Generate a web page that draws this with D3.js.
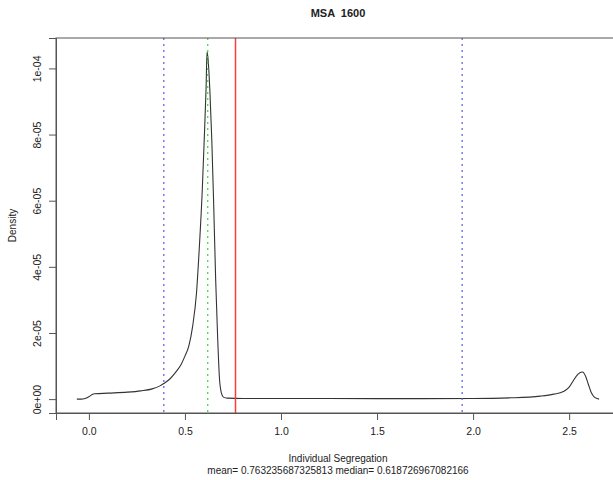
<!DOCTYPE html>
<html>
<head>
<meta charset="utf-8">
<script src="https://cdn.jsdelivr.net/npm/d3@7"></script>
<style>
  body { margin: 0; background: #fff; }
  text { font-family: "Liberation Sans", Arial, sans-serif; fill: #222; }
</style>
</head>
<body>
<script>
  // density estimate
  const densX = [-0.0625, -0.04, -0.02, 0.0, 0.015, 0.03, 0.1, 0.2, 0.27, 0.33, 0.37, 0.39, 0.42, 0.45, 0.48, 0.5, 0.52, 0.54, 0.56, 0.575, 0.59, 0.6, 0.61, 0.615, 0.62, 0.63, 0.64, 0.65, 0.66, 0.67, 0.68, 0.69, 0.70, 0.72, 0.8, 1.0, 1.5, 2.0, 2.2, 2.35, 2.42, 2.47, 2.5, 2.52, 2.545, 2.57, 2.585, 2.6, 2.615, 2.63, 2.645, 2.656];
  const densY = [0, 0, 0.02e-5, 0.07e-5, 0.13e-5, 0.16e-5, 0.18e-5, 0.21e-5, 0.25e-5, 0.31e-5, 0.4e-5, 0.47e-5, 0.6e-5, 0.8e-5, 1.05e-5, 1.3e-5, 1.6e-5, 2.2e-5, 3.2e-5, 4.6e-5, 6.3e-5, 7.8e-5, 9.4e-5, 10.5e-5, 10.3e-5, 9.3e-5, 7.8e-5, 5.8e-5, 3.6e-5, 1.9e-5, 0.6e-5, 0.18e-5, 0.06e-5, 0.03e-5, 0.02e-5, 0.02e-5, 0.015e-5, 0.02e-5, 0.04e-5, 0.09e-5, 0.15e-5, 0.23e-5, 0.36e-5, 0.54e-5, 0.75e-5, 0.82e-5, 0.7e-5, 0.45e-5, 0.2e-5, 0.07e-5, 0.02e-5, 0];

  const xTicks = [0, 0.5, 1.0, 1.5, 2.0, 2.5];
  const yTicks = [0, 2e-5, 4e-5, 6e-5, 8e-5, 1e-4];
  const yTickLabels = ["0e+00", "2e-05", "4e-05", "6e-05", "8e-05", "1e-04"];

  const meanVal = 0.763235687325813;
  const medianVal = 0.618726967082166;
  const boundVals = [0.39, 1.943]; // blue dotted lines

  const title = "MSA  1600";
  const xLabel = "Individual Segregation";
  const yLabel = "Density";
  const subTitle = "mean= " + meanVal + " median= " + medianVal;

  const W = 613, H = 480;
  const box = {left: 56, right: 620, top: 38, bottom: 413};

  // R style 4% padding around data range
  const xr = d3.extent(densX), xp = (xr[1] - xr[0]) * 0.04;
  const yr = [0, d3.max(densY)], yp = (yr[1] - yr[0]) * 0.04;

  const x = d3.scaleLinear().domain([xr[0] - xp, xr[1] + xp]).range([box.left, box.right]);
  const y = d3.scaleLinear().domain([yr[0] - yp, yr[1] + yp]).range([box.bottom, box.top]);

  const svg = d3.select("body").append("svg")
      .attr("width", W).attr("height", H);

  svg.append("rect").attr("width", W).attr("height", H).attr("fill", "#fff");

  // density curve
  const pts = densX.map((d, i) => [d, densY[i]]);
  svg.append("path")
      .datum(pts)
      .attr("fill", "none")
      .attr("stroke", "#333")
      .attr("stroke-width", 1.1)
      .attr("d", d3.line().x(d => x(d[0])).y(d => y(d[1])).curve(d3.curveMonotoneX));

  // vertical lines
  svg.selectAll("line.bound")
    .data(boundVals)
    .enter().append("line")
      .attr("class", "bound")
      .attr("x1", d => x(d)).attr("x2", d => x(d))
      .attr("y1", box.top).attr("y2", box.bottom)
      .attr("stroke", "#5a5ae0")
      .attr("stroke-width", 1.2)
      .attr("stroke-dasharray", "2,4");

  svg.append("line")
      .attr("x1", x(medianVal)).attr("x2", x(medianVal))
      .attr("y1", box.top).attr("y2", box.bottom)
      .attr("stroke", "#3fd03f")
      .attr("stroke-width", 1.2)
      .attr("stroke-dasharray", "2,4");

  svg.append("line")
      .attr("x1", x(meanVal)).attr("x2", x(meanVal))
      .attr("y1", box.top).attr("y2", box.bottom)
      .attr("stroke", "#ff3c3c")
      .attr("stroke-width", 1.5);

  // box
  svg.append("rect")
      .attr("x", box.left).attr("y", box.top)
      .attr("width", box.right - box.left).attr("height", box.bottom - box.top)
      .attr("fill", "none").attr("stroke", "#555").attr("stroke-width", 1);

  // x axis
  const xAxis = svg.append("g")
      .attr("transform", "translate(0," + box.bottom + ")")
      .call(d3.axisBottom(x).tickValues(xTicks).tickFormat(d3.format(".1f")).tickSizeOuter(0).tickSize(7).tickPadding(8));
  xAxis.select(".domain").attr("stroke", "#555");
  xAxis.selectAll(".tick line").attr("stroke", "#555");
  xAxis.selectAll("text").attr("font-size", 10.5).style("font-family", "Liberation Sans, Arial, sans-serif").attr("fill", "#222");

  // y axis, labels rotated like R
  const yAxis = svg.append("g")
      .attr("transform", "translate(" + box.left + ",0)")
      .call(d3.axisLeft(y).tickValues(yTicks).tickFormat((d, i) => yTickLabels[i]).tickSizeOuter(0).tickSize(7));
  yAxis.select(".domain").attr("stroke", "#555");
  yAxis.selectAll(".tick line").attr("stroke", "#555");
  yAxis.selectAll("text")
      .attr("x", -19).attr("dy", "0.35em")
      .attr("transform", "rotate(-90,-19,0)")
      .attr("text-anchor", "middle")
      .attr("font-size", 10.5)
      .style("font-family", "Liberation Sans, Arial, sans-serif")
      .attr("fill", "#222");

  const cx = (box.left + box.right) / 2;

  svg.append("text")
      .attr("x", cx).attr("y", 17)
      .attr("text-anchor", "middle")
      .attr("font-size", 11).attr("font-weight", "bold")
      .style("white-space", "pre")
      .text(title);

  svg.append("text")
      .attr("x", cx).attr("y", 462)
      .attr("text-anchor", "middle")
      .attr("font-size", 10)
      .text(xLabel);

  svg.append("text")
      .attr("x", cx).attr("y", 474)
      .attr("text-anchor", "middle")
      .attr("font-size", 10)
      .text(subTitle);

  svg.append("text")
      .attr("transform", "translate(16," + ((box.top + box.bottom) / 2) + ") rotate(-90)")
      .attr("text-anchor", "middle")
      .attr("font-size", 10)
      .text(yLabel);
</script>
</body>
</html>
